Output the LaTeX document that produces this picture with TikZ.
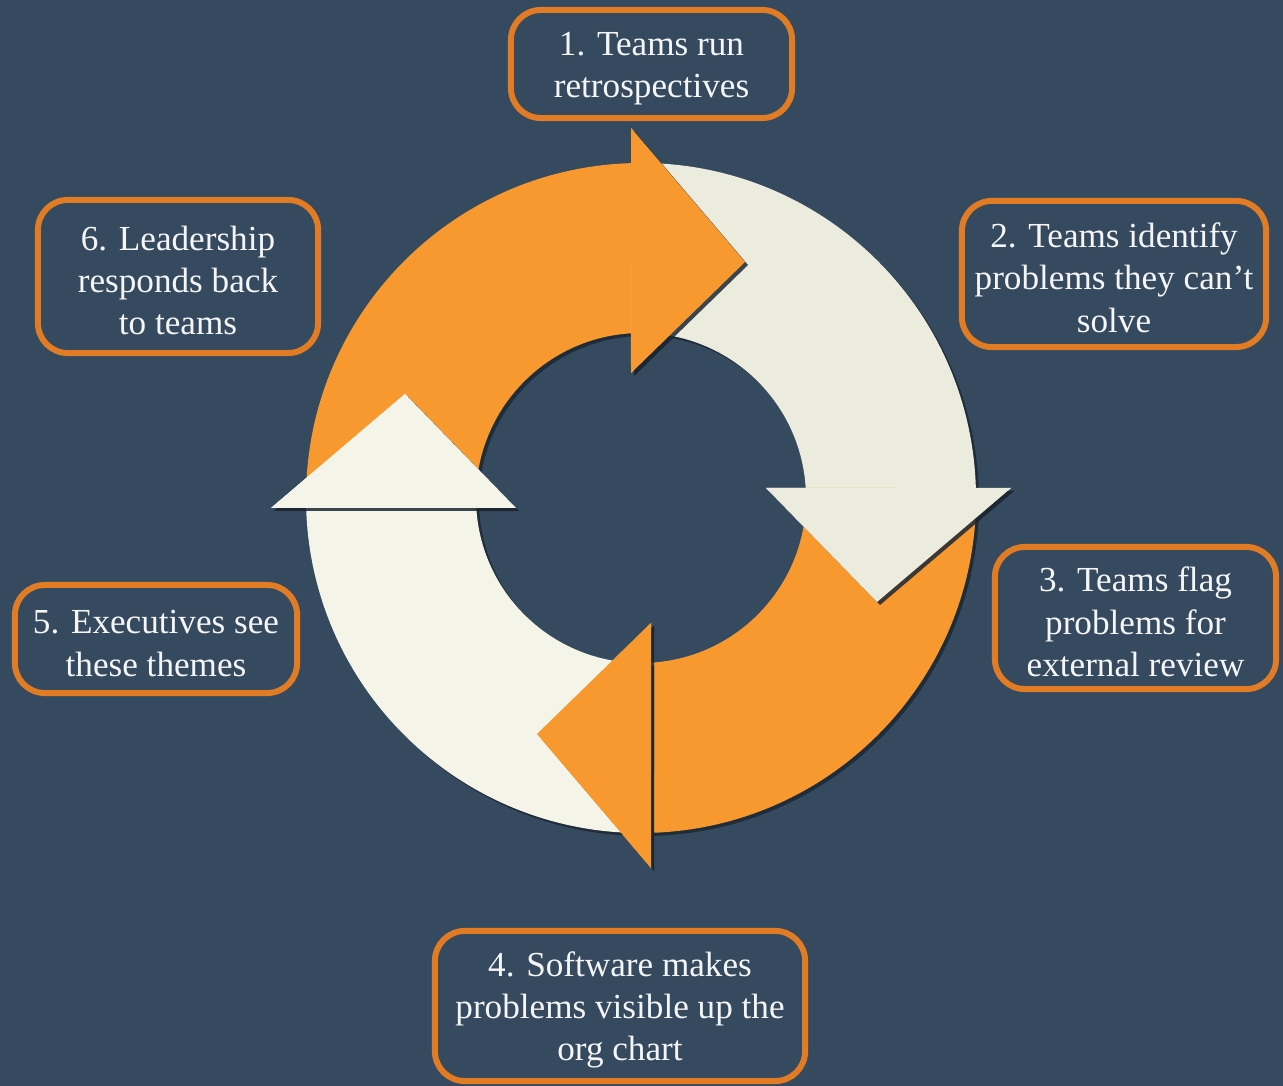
\documentclass[tikz,border=0pt]{standalone}
\usepackage{fontspec}
\setmainfont{Liberation Serif}
\usepackage{tikz}
\usepackage{xcolor}

\definecolor{bg}{RGB}{53,74,95}
\definecolor{arrorange}{RGB}{247,153,47}
\definecolor{boxorange}{RGB}{226,124,36}
\definecolor{creamA}{RGB}{235,236,221}
\definecolor{creamB}{RGB}{244,245,232}
\definecolor{shadowc}{RGB}{28,39,51}
\definecolor{txt}{RGB}{245,245,245}

% one quarter of the ring, head at the top pointing right
\newcommand{\fullarrow}{(181.7:335) arc[start angle=181.7,end angle=91.7,radius=335] -- (-10,370) -- (104,236) -- (-10,125) -- (93.5:165) arc[start angle=93.5,end angle=183.5,radius=165] -- cycle}
\newcommand{\headonly}{(-10,370) -- (104,236) -- (-10,125) -- cycle}
\newcommand{\topgap}{\rule{0pt}{9.2pt}}

\begin{document}
\begin{tikzpicture}[x=0.01cm,y=0.01cm]
\tikzstyle{stepbox}=[draw=boxorange,line width=1.7pt,rounded corners=8.5pt,text=txt,align=center,font=\fontsize{10}{12}\selectfont,inner sep=0pt];
\fill[bg] (0,0) rectangle (1283,-1086);
\useasboundingbox (0,0) rectangle (1283,-1086);

% the four arrows
\foreach \k/\col in {0/arrorange,1/creamA,2/arrorange,3/creamB}{
  \fill[shadowc,opacity=0.85,shift={(644,-501)},rotate=-90*\k] \fullarrow;
  \fill[\col,shift={(641,-498)},rotate=-90*\k] \fullarrow;
}
\foreach \k/\col in {0/arrorange,1/creamA,2/arrorange,3/creamB}{
  \fill[shadowc,opacity=0.85,shift={(644,-501)},rotate=-90*\k] \headonly;
  \fill[\col,shift={(641,-498)},rotate=-90*\k] \headonly;
}

% the six steps
\node[stepbox,minimum width=2.81cm,minimum height=1.08cm](s1) at (651.5,-64) {\topgap 1. Teams run\\retrospectives};
\node[stepbox,minimum width=3.04cm,minimum height=1.46cm](s2) at (1114,-274) {\topgap 2. Teams identify\\problems they can't\\solve};
\node[stepbox,minimum width=2.81cm,minimum height=1.42cm](s3) at (1135.5,-618) {\topgap 3. Teams flag\\problems for\\external review};
\node[stepbox,minimum width=3.70cm,minimum height=1.50cm](s4) at (620,-1006) {\topgap 4. Software makes\\problems visible up the\\org chart};
\node[stepbox,minimum width=2.82cm,minimum height=1.08cm](s5) at (156,-639) {\topgap 5. Executives see\\these themes};
\node[stepbox,minimum width=2.80cm,minimum height=1.53cm](s6) at (178,-276.5) {\topgap 6. Leadership\\responds back\\to teams};
\end{tikzpicture}
\end{document}
